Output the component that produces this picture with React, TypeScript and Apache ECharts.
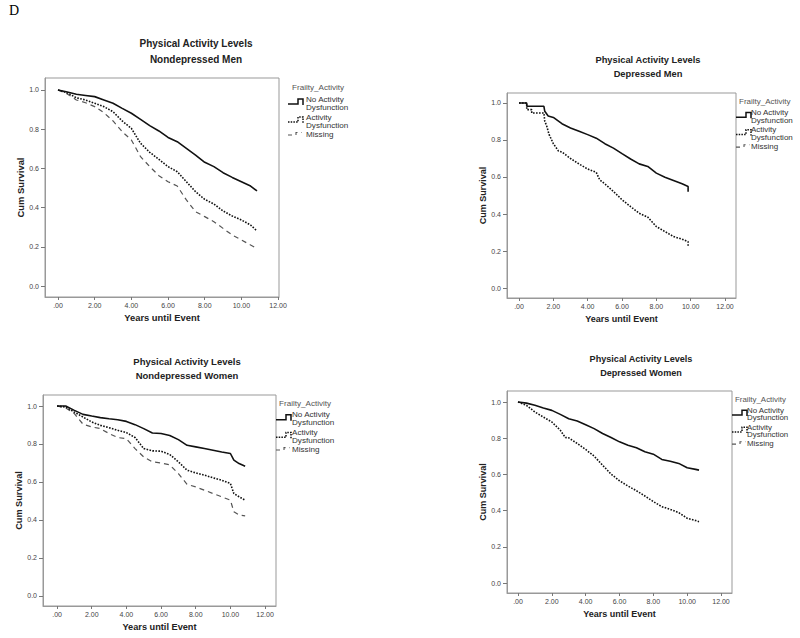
import React, { useEffect, useRef } from "react";
import * as echarts from "echarts";

// ---------- texts ----------
const figureLabel = "D";
const titleLine1 = "Physical Activity Levels";
const panelSubtitles = ["Nondepressed Men", "Depressed Men", "Nondepressed Women", "Depressed Women"];
const legendTitle = "Frailty_Activity";
const seriesNames = ["No Activity\nDysfunction", "Activity\nDysfunction", "Missing"];
const xAxisName = "Years until Event";
const yAxisName = "Cum Survival";
const xTicks = [0, 2, 4, 6, 8, 10, 12];
const yTicks = [0, 0.2, 0.4, 0.6, 0.8, 1.0];

// ---------- data: [years, cumulative survival] ----------
const nondepMenNoDys: [number, number][] = [[0, 1], [0.5, 0.99], [1, 0.978], [1.5, 0.972], [2, 0.966], [2.5, 0.949], [3, 0.932], [3.5, 0.906], [4, 0.881], [4.5, 0.85], [5, 0.818], [5.5, 0.791], [6, 0.758], [6.5, 0.736], [7, 0.702], [7.5, 0.668], [8, 0.631], [8.5, 0.609], [9, 0.578], [9.5, 0.554], [10, 0.532], [10.5, 0.51], [10.85, 0.485]];
const nondepMenActDys: [number, number][] = [[0, 1], [0.5, 0.986], [1, 0.96], [1.5, 0.949], [2, 0.932], [2.5, 0.915], [3, 0.889], [3.5, 0.842], [4, 0.804], [4.5, 0.728], [5, 0.682], [5.5, 0.646], [6, 0.609], [6.5, 0.583], [7, 0.532], [7.5, 0.481], [8, 0.442], [8.5, 0.418], [9, 0.383], [9.5, 0.357], [10, 0.337], [10.5, 0.311], [10.85, 0.281]];
const nondepMenMissing: [number, number][] = [[0, 1], [0.5, 0.98], [1, 0.949], [1.5, 0.935], [2, 0.915], [2.5, 0.884], [3, 0.842], [3.5, 0.787], [4, 0.745], [4.5, 0.66], [5, 0.609], [5.5, 0.563], [6, 0.532], [6.5, 0.51], [7, 0.439], [7.5, 0.379], [8, 0.354], [8.5, 0.328], [9, 0.294], [9.5, 0.26], [10, 0.235], [10.5, 0.209], [10.85, 0.192]];

const depMenNoDys: [number, number][] = [[0, 1], [0.45, 1], [0.45, 0.982], [1.45, 0.982], [1.5, 0.955], [1.7, 0.93], [2, 0.922], [2.5, 0.888], [3, 0.865], [3.5, 0.847], [4, 0.829], [4.5, 0.81], [5, 0.78], [5.5, 0.756], [6, 0.726], [6.5, 0.697], [7, 0.671], [7.5, 0.657], [8, 0.621], [8.5, 0.599], [9, 0.581], [9.5, 0.563], [9.85, 0.549], [9.85, 0.52]];
const depMenActDys: [number, number][] = [[0, 1], [0.45, 1], [0.45, 0.964], [0.74, 0.964], [0.74, 0.946], [1.45, 0.946], [1.5, 0.9], [1.6, 0.88], [1.75, 0.83], [2, 0.78], [2.3, 0.74], [2.5, 0.735], [3, 0.7], [3.5, 0.67], [4, 0.643], [4.5, 0.625], [4.7, 0.585], [5, 0.563], [5.5, 0.522], [6, 0.477], [6.5, 0.44], [7, 0.404], [7.5, 0.383], [8, 0.332], [8.5, 0.305], [9, 0.278], [9.5, 0.264], [9.85, 0.25], [9.85, 0.225]];
const depMenMissing: [number, number][] = [];

const nondepWomenNoDys: [number, number][] = [[0, 1], [0.5, 1], [1, 0.977], [1.5, 0.956], [2, 0.947], [2.5, 0.939], [3, 0.933], [3.5, 0.928], [4, 0.919], [4.5, 0.902], [5, 0.881], [5.5, 0.858], [6, 0.855], [6.5, 0.845], [7, 0.823], [7.5, 0.793], [8, 0.785], [8.5, 0.776], [9, 0.767], [9.5, 0.758], [10, 0.75], [10.2, 0.715], [10.5, 0.697], [10.85, 0.683]];
const nondepWomenActDys: [number, number][] = [[0, 1], [0.5, 0.995], [1, 0.968], [1.5, 0.942], [2, 0.916], [2.5, 0.898], [3, 0.886], [3.5, 0.872], [4, 0.86], [4.5, 0.834], [5, 0.776], [5.5, 0.764], [6, 0.762], [6.5, 0.745], [7, 0.706], [7.5, 0.662], [8, 0.648], [8.5, 0.636], [9, 0.622], [9.5, 0.609], [10, 0.592], [10.2, 0.539], [10.5, 0.522], [10.85, 0.504]];
const nondepWomenMissing: [number, number][] = [[0, 1], [0.5, 0.99], [1, 0.96], [1.5, 0.904], [2, 0.89], [2.5, 0.881], [3, 0.855], [3.5, 0.834], [4, 0.828], [4.5, 0.776], [5, 0.732], [5.5, 0.706], [6, 0.7], [6.5, 0.69], [7, 0.644], [7.5, 0.588], [8, 0.574], [8.5, 0.557], [9, 0.539], [9.5, 0.522], [10, 0.504], [10.2, 0.443], [10.5, 0.426], [10.85, 0.422]];

const depWomenNoDys: [number, number][] = [[0, 1], [0.5, 0.994], [1, 0.982], [1.5, 0.967], [2, 0.954], [2.5, 0.932], [3, 0.908], [3.5, 0.895], [4, 0.875], [4.5, 0.853], [5, 0.826], [5.5, 0.804], [6, 0.78], [6.5, 0.761], [7, 0.747], [7.5, 0.725], [8, 0.712], [8.5, 0.683], [9, 0.673], [9.5, 0.661], [10, 0.637], [10.5, 0.628], [10.7, 0.624]];
const depWomenActDys: [number, number][] = [[0, 1], [0.5, 0.982], [1, 0.945], [1.5, 0.917], [2, 0.89], [2.5, 0.844], [2.8, 0.804], [3, 0.802], [3.5, 0.771], [4, 0.738], [4.5, 0.701], [5, 0.651], [5.5, 0.602], [6, 0.565], [6.5, 0.536], [7, 0.51], [7.5, 0.481], [8, 0.45], [8.5, 0.422], [9, 0.407], [9.5, 0.389], [10, 0.358], [10.5, 0.345], [10.7, 0.339]];
const depWomenMissing: [number, number][] = [];

const panelData = [
  [nondepMenNoDys, nondepMenActDys, nondepMenMissing],
  [depMenNoDys, depMenActDys, depMenMissing],
  [nondepWomenNoDys, nondepWomenActDys, nondepWomenMissing],
  [depWomenNoDys, depWomenActDys, depWomenMissing],
];

// ---------- layout (pixels) ----------
const layouts = [
  { left: 45, top: 78, width: 234, height: 219, xMin: -0.71, xMax: 12.05, yMin: -0.056, yMax: 1.061, titleX: 196, titleY: 43, titleGap: 16, titleSize: 10, nameSize: 9.4, legIconX: 288, legTitleX: 292, legTextX: 306, legY: 87, legScale: 1, legFont: 8.1 },
  { left: 507, top: 93, width: 229, height: 205, xMin: -0.7, xMax: 12.64, yMin: -0.054, yMax: 1.054, titleX: 648, titleY: 60, titleGap: 14, titleSize: 9.3, nameSize: 9, legIconX: 736, legTitleX: 739, legTextX: 751, legY: 101, legScale: 0.96, legFont: 8.0 },
  { left: 43, top: 395, width: 233, height: 211, xMin: -0.81, xMax: 12.63, yMin: -0.053, yMax: 1.058, titleX: 187, titleY: 361, titleGap: 14, titleSize: 9.5, nameSize: 9.2, legIconX: 276, legTitleX: 279, legTextX: 292, legY: 403, legScale: 0.98, legFont: 8.1 },
  { left: 507, top: 391, width: 225, height: 202, xMin: -0.65, xMax: 12.65, yMin: -0.055, yMax: 1.061, titleX: 641, titleY: 359, titleGap: 14, titleSize: 9.1, nameSize: 9, legIconX: 732, legTitleX: 735, legTextX: 747, legY: 399, legScale: 0.94, legFont: 7.9 },
];

const FONT = '"Liberation Sans", Arial, sans-serif';
const lineStyles = [
  { color: "#111", width: 1.6, type: "solid" as any },
  { color: "#111", width: 1.6, type: [1.6, 1.4] as any },
  { color: "#555", width: 1.2, type: [5, 4] as any },
];

function legendGraphics(L: any) {
  const s = L.legScale;
  const y0 = L.legY;
  const els: any[] = [];
  els.push({
    type: "text", x: L.legTitleX, y: y0,
    style: { text: legendTitle, font: `${L.legFont}px ${FONT}`, fill: "#555", align: "left", verticalAlign: "middle" },
  });
  // centre of each legend entry block (two-line names are one text block)
  const blockCentres = [16, 34, 47];
  seriesNames.forEach((name, i) => {
    els.push({
      type: "text", x: L.legTextX, y: y0 + blockCentres[i] * s,
      style: {
        text: name, font: `${L.legFont}px ${FONT}`, lineHeight: 8 * s,
        fill: "#333", align: "left", verticalAlign: "middle",
      },
    });
  });
  const iconBase = [17, 35, 48];
  const iconTop = [12, 30, 45.5];
  const x = L.legIconX;
  iconBase.forEach((b, i) => {
    const by = y0 + b * s;
    const ty = y0 + iconTop[i] * s;
    const pts = i < 2
      ? [[x, by], [x + 10, by], [x + 10, ty], [x + 15, ty], [x + 15, by + 1]]
      : [[x, by], [x + 8, by], [x + 8, ty], [x + 14, ty]];
    els.push({
      type: "polyline",
      shape: { points: pts },
      style: { stroke: lineStyles[i].color, lineWidth: i === 2 ? 1.1 : 1.5, lineDash: i === 0 ? null : i === 1 ? [1.5, 1.2] : [4, 4], fill: null },
    });
  });
  return els;
}

export default function App() {
  const ref = useRef<HTMLDivElement>(null);
  useEffect(() => {
    if (!ref.current) return;
    const chart = echarts.init(ref.current, undefined, { renderer: "svg" });

    const grids = layouts.map((L) => ({
      left: L.left, top: L.top, width: L.width, height: L.height,
      show: true, borderColor: "#999", borderWidth: 1, backgroundColor: "transparent",
    }));

    const xAxes = layouts.map((L, i) => ({
      gridIndex: i, type: "value", min: L.xMin, max: L.xMax,
      axisLine: { show: true, onZero: false, lineStyle: { color: "#999", width: 1 } },
      axisTick: { show: true, customValues: xTicks, length: 3, lineStyle: { color: "#777" } },
      axisLabel: {
        customValues: xTicks, fontSize: 7, color: "#444", margin: 5, fontFamily: FONT,
        formatter: (v: number) => (v === 0 ? ".00" : v.toFixed(2)),
      },
      splitLine: { show: false },
      name: xAxisName, nameLocation: "middle", nameGap: 16,
      nameTextStyle: { fontSize: L.nameSize, fontWeight: "bold", color: "#222", fontFamily: FONT },
    }));

    const yAxes = layouts.map((L, i) => ({
      gridIndex: i, type: "value", min: L.yMin, max: L.yMax,
      axisLine: { show: true, onZero: false, lineStyle: { color: "#999", width: 1 } },
      axisTick: { show: true, customValues: yTicks, length: 4, lineStyle: { color: "#777" } },
      axisLabel: {
        customValues: yTicks, fontSize: 7, color: "#444", margin: 6, fontFamily: FONT,
        formatter: (v: number) => v.toFixed(1),
      },
      splitLine: { show: false },
      name: yAxisName, nameLocation: "middle", nameGap: 18,
      nameTextStyle: { fontSize: L.nameSize, fontWeight: "bold", color: "#222", fontFamily: FONT },
    }));

    const series: any[] = [];
    panelData.forEach((group, p) => {
      group.forEach((data, k) => {
        if (!data.length) return;
        series.push({
          type: "line", name: seriesNames[k].replace("\n", " "),
          xAxisIndex: p, yAxisIndex: p, data,
          showSymbol: false, symbol: "none", silent: true,
          lineStyle: lineStyles[k], z: 3 - k,
        });
      });
    });

    const graphics: any[] = [
      {
        type: "text", x: 9, y: 3,
        style: { text: figureLabel, font: '14px "Liberation Serif", serif', fill: "#000", align: "left", verticalAlign: "top" },
      },
    ];
    layouts.forEach((L, p) => {
      graphics.push({
        type: "text", x: L.titleX, y: L.titleY,
        style: { text: titleLine1, font: `bold ${L.titleSize}px ${FONT}`, fill: "#222", align: "center", verticalAlign: "middle" },
      });
      graphics.push({
        type: "text", x: L.titleX, y: L.titleY + L.titleGap,
        style: { text: panelSubtitles[p], font: `bold ${L.titleSize}px ${FONT}`, fill: "#222", align: "center", verticalAlign: "middle" },
      });
      graphics.push(...legendGraphics(L));
    });

    chart.setOption({
      animation: false,
      backgroundColor: "#fff",
      grid: grids,
      xAxis: xAxes,
      yAxis: yAxes,
      series,
      graphic: graphics,
    } as any);

    return () => chart.dispose();
  }, []);

  return (
    <div
      ref={ref}
      style={{ position: "absolute", left: 0, top: 0, width: 800, height: 638, background: "#fff" }}
    />
  );
}
